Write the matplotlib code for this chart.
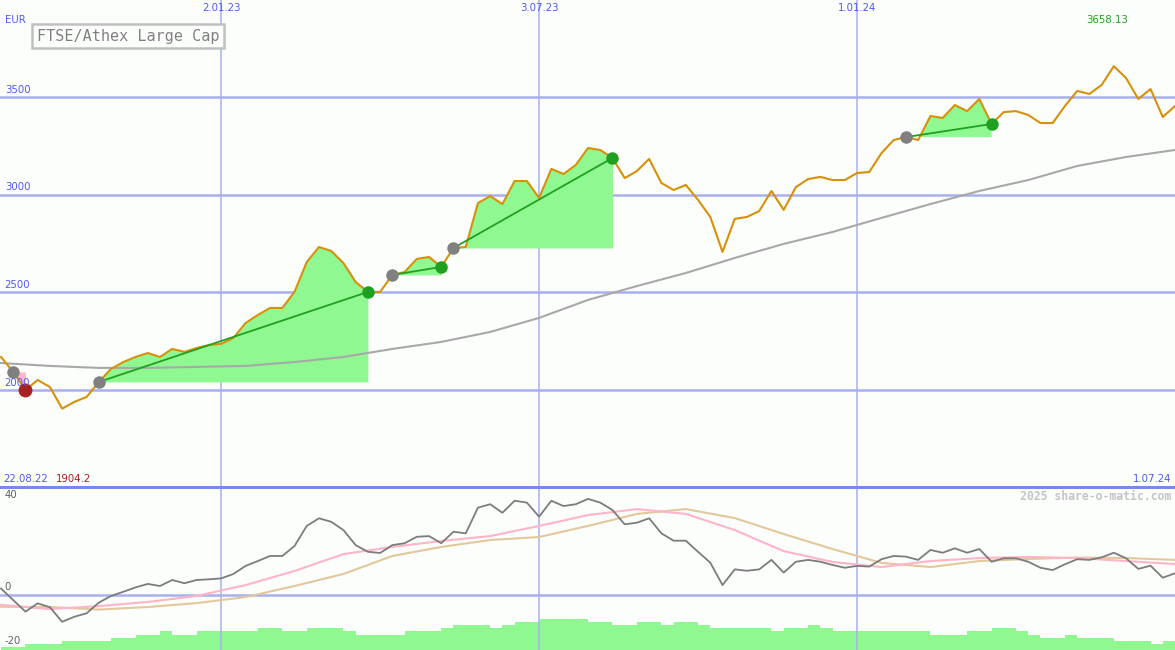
import numpy as np
import pandas as pd
import matplotlib
matplotlib.use('Agg')
import matplotlib.pyplot as plt

# ------- Данные (недельные) -------
dates = pd.date_range('2022-08-29', periods=97, freq='7D')

price = [2169, 2092, 2000, 2051, 2015, 1904.2, 1939, 1964, 2041, 2108,
         2143, 2169, 2189, 2169, 2210, 2195, 2215, 2230, 2236, 2266,
         2343, 2384, 2420, 2420, 2502, 2655, 2732, 2712, 2650, 2553,
         2502, 2502, 2589, 2604, 2671, 2681, 2630, 2727, 2732, 2957,
         2993, 2952, 3070, 3070, 2983, 3132, 3106, 3152, 3239, 3229,
         3188, 3085, 3121, 3183, 3060, 3024, 3050, 2973, 2886, 2707,
         2876, 2886, 2916, 3019, 2922, 3039, 3080, 3091, 3075, 3075,
         3111, 3116, 3213, 3280, 3295, 3280, 3403, 3393, 3459, 3428,
         3490, 3362, 3423, 3428, 3408, 3367, 3367, 3454, 3531, 3516,
         3562, 3658.13, 3597, 3490, 3541, 3398, 3454]

# скользящая средняя, каждая 4-я неделя
ma_idx = list(range(0, 97, 4))
ma_val = [2138, 2123, 2113, 2113, 2118, 2123, 2143, 2169, 2210, 2246,
          2297, 2369, 2461, 2532, 2599, 2676, 2748, 2809, 2881, 2952,
          3019, 3075, 3147, 3193, 3229]

# осциллятор (нижняя панель)
osc = [2.8, -2.2, -7.2, -3.6, -5.3, -11.6, -9.4, -7.9, -3.3, -0.4,
       1.4, 3.3, 4.8, 3.9, 6.5, 5.1, 6.5, 6.8, 7.2, 9.1,
       12.6, 14.7, 16.9, 16.9, 21.2, 29.9, 33.2, 31.7, 28.1, 21.6,
       18.7, 18.2, 21.6, 22.4, 25.2, 25.5, 22.4, 27.4, 26.7, 37.8,
       39.3, 35.6, 40.8, 40.0, 33.9, 40.8, 38.5, 39.3, 41.6, 40.0,
       36.8, 30.6, 31.3, 33.2, 26.7, 23.5, 23.5, 18.7, 14.0, 4.3,
       11.1, 10.5, 11.1, 15.2, 9.7, 14.4, 15.2, 14.4, 13.0, 11.8,
       12.6, 12.3, 15.5, 16.9, 16.6, 15.2, 19.5, 18.3, 20.2, 18.3,
       19.9, 14.4, 15.9, 15.9, 14.4, 11.8, 10.8, 13.3, 15.5, 15.2,
       16.3, 18.3, 15.9, 11.3, 12.7, 7.5, 9.4]
osc_pink = [-4.3, -6.1, -4.8, -3.0, -0.4, 4.3, 10.4, 17.7, 20.8, 23.4,
            25.5, 29.9, 34.6, 37.2, 35.1, 28.1, 19.0, 14.3, 12.1, 14.7,
            16.0, 16.5, 16.0, 14.7, 13.4]
osc_tan = [-5.1, -5.2, -6.3, -5.2, -3.5, -0.9, 3.9, 9.1, 16.9, 20.8,
           23.8, 25.1, 29.9, 35.1, 37.2, 33.3, 26.4, 19.9, 13.9, 12.1,
           14.7, 15.6, 16.2, 16.0, 15.2]

bars = [1, 1, 2, 2, 2, 3, 3, 3, 3, 4,
        4, 5, 5, 6, 5, 5, 6, 6, 6, 6,
        6, 7, 7, 6, 6, 7, 7, 7, 6, 5,
        5, 5, 5, 6, 6, 6, 7, 8, 8, 8,
        7, 8, 9, 9, 10, 10, 10, 10, 9, 9,
        8, 8, 9, 9, 8, 9, 9, 8, 7, 7,
        7, 7, 7, 6, 7, 7, 8, 7, 6, 6,
        6, 6, 6, 6, 6, 6, 5, 5, 5, 6,
        6, 7, 7, 6, 5, 4, 4, 5, 4, 4,
        4, 3, 3, 3, 2, 3, 3]

# сделки: вход / выход (индексы недель)
buy_idx = [8, 32, 37, 74]
sell_idx = [30, 36, 50, 81]
loss_in, loss_out = 1, 2

grid_dates = pd.to_datetime(['2023-01-02', '2023-07-03', '2024-01-01'])
grid_labels = ['2.01.23', '3.07.23', '1.01.24']
price_ticks = [2000, 2500, 3000, 3500]
osc_ticks = [40, 0, -20]
start_label = '22.08.22'
end_label = '1.07.24'
title = 'FTSE/Athex Large Cap'

# ------- Цвета -------
BG = '#fcfefc'
GRID = '#a8b0f0'
BLUE = '#5058f0'
ORANGE = '#d8900a'
FILL = '#90f890'
DKGREEN = '#20a020'

price = np.array(price)
W, H = 1175, 650
fig = plt.figure(figsize=(W / 100, H / 100), dpi=100, facecolor=BG)
ax = fig.add_axes([0, 163 / H, 1, 487 / H], facecolor=BG)
ax2 = fig.add_axes([0, 0, 1, 163 / H], facecolor=BG)
ax3 = ax2.twinx()

xmin = dates[0] - pd.Timedelta(hours=14)
xmax = dates[-1]
for a in (ax, ax2, ax3):
    a.set_xlim(xmin, xmax)
    a.set_xticks([])
    a.set_yticks([])
    for s in a.spines.values():
        s.set_visible(False)
ax.set_ylim(1503, 3997)
ax2.set_ylim(-23.8, 46.75)
ax3.set_ylim(0, 52.6)
ax2.spines['top'].set_visible(True)
ax2.spines['top'].set_color('#7888ee')
ax2.spines['top'].set_linewidth(2.2)
ax2.spines['top'].set_zorder(10)

# сетка
for d in grid_dates:
    ax.axvline(d, color=GRID, lw=1.1, zorder=1)
    ax2.axvline(d, color=GRID, lw=1.1, zorder=1)
for v in price_ticks:
    ax.axhline(v, color=GRID, lw=1.8, zorder=1)
ax2.axhline(0, color=GRID, lw=1.8, zorder=1)

# ------- Верхняя панель -------
for i, j in zip(buy_idx, sell_idx):
    sl = slice(i, j + 1)
    ax.fill_between(dates[sl], price[sl], price[i], where=price[sl] >= price[i],
                    interpolate=True, color=FILL, lw=0, zorder=2)
ax.fill_between(dates[loss_in:loss_out + 1], price[loss_in:loss_out + 1], price[loss_in],
                color='#ffb8cc', lw=0, zorder=2)

ax.plot(dates[ma_idx], ma_val, color='#a8a8a8', lw=1.5, zorder=3)
ax.plot(dates, price, color=ORANGE, lw=1.5, zorder=4)

for i, j in zip(buy_idx, sell_idx):
    ax.plot([dates[i], dates[j]], [price[i], price[j]], color=DKGREEN, lw=1.3, zorder=5)
    ax.plot(dates[i], price[i], 'o', ms=9, color='#808080', mew=0, zorder=6)
    ax.plot(dates[j], price[j], 'o', ms=9, color=DKGREEN, mew=0, zorder=6)
ax.plot(dates[loss_in], price[loss_in], 'o', ms=9, color='#808080', mew=0, zorder=6)
ax.plot(dates[loss_out], price[loss_out], 'o', ms=10, color='#a82020', mew=0, zorder=6)

yt = ax.get_yaxis_transform()
xt = ax.get_xaxis_transform()
for v in price_ticks:
    ax.text(0.004, v + 12, str(v), transform=yt, color=BLUE, fontsize=7.3,
            va='bottom', ha='left', zorder=7)
for d, lab in zip(grid_dates, grid_labels):
    ax.text(d, 0.983, lab, transform=xt, color=BLUE, fontsize=7.3,
            ha='center', va='center', zorder=7)
fig.text(5 / W, 1 - 20 / H, 'EUR', color=BLUE, fontsize=7.3, ha='left', va='center')
fig.text(37 / W, 1 - 36 / H, title, color='#808080', fontsize=10.9,
         family='DejaVu Sans Mono', ha='left', va='center',
         bbox=dict(boxstyle='square,pad=0.3', fc=BG, ec='#c0c0c0', lw=1.8))

imax = int(np.argmax(price))
imin = int(np.argmin(price))
ax.text(dates[imax] - pd.Timedelta(days=4), 0.958, f'{price[imax]:.2f}', transform=xt,
        color=DKGREEN, fontsize=7.3, ha='center', va='center', zorder=7)
fig.text(3 / W, 1 - 479 / H, start_label, color=BLUE, fontsize=7.3, ha='left', va='center')
fig.text(56 / W, 1 - 479 / H, f'{price[imin]:.1f}', color='#a82020', fontsize=7.3,
         ha='left', va='center')
fig.text(1171 / W, 1 - 479 / H, end_label, color=BLUE, fontsize=7.3, ha='right', va='center')

# ------- Нижняя панель -------
ax3.bar(dates, bars, width=7, align='edge', color=FILL, lw=0, zorder=2)
ax2.set_zorder(ax3.get_zorder() + 1)
ax2.patch.set_visible(False)
ax3.patch.set_visible(True)
ax3.patch.set_facecolor(BG)

ax2.plot(dates[ma_idx], osc_tan, color='#e2c89c', lw=1.5, zorder=3)
ax2.plot(dates[ma_idx], osc_pink, color='#ffb4c8', lw=1.5, zorder=3)
ax2.plot(dates, osc, color='#7c7c7c', lw=1.3, zorder=4)

yt2 = ax2.get_yaxis_transform()
for v in osc_ticks:
    ax2.text(0.004, v + 1.2 if v > -20 else v, str(v), transform=yt2, color='#606060',
             fontsize=7.3, va='bottom' if v > -20 else 'center', ha='left', zorder=7)
fig.text(1171 / W, 1 - 496 / H, '2025 share-o-matic.com', color='#c4c4c4',
         fontsize=8.3, family='DejaVu Sans Mono', fontweight='bold',
         ha='right', va='center')

fig.savefig('out.png', dpi=100, facecolor=BG)
